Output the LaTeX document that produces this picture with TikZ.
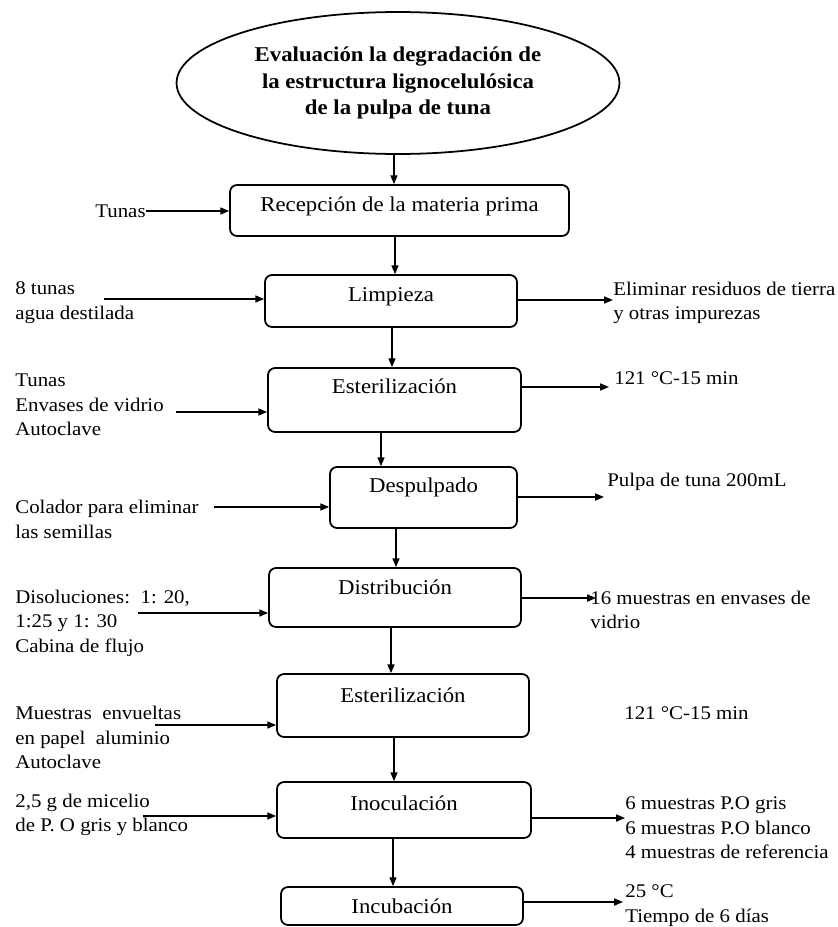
\documentclass[tikz,border=0pt]{standalone}
\usepackage{fontspec}
\setmainfont{Liberation Serif}[FakeStretch=1.08]
\usetikzlibrary{positioning,arrows.meta,shapes.geometric}
\tikzset{
  proc/.style={draw,line width=1pt,rounded corners=4pt,inner sep=2pt,font=\fontsize{12}{14}\selectfont},
  goal/.style={ellipse,draw,line width=1pt,inner sep=0pt,align=center,font=\bfseries\fontsize{12}{15}\selectfont},
  side/.style={anchor=west,align=left,inner sep=0pt,font=\fontsize{11}{14}\selectfont},
  flow/.style={line width=0.8pt,-{Triangle[length=5pt,width=4pt]}}
}
\begin{document}
\begin{tikzpicture}[x=0.02cm,y=-0.02cm]
  \useasboundingbox (0,0) rectangle (838,927);
  % main chain
  \node[goal,minimum width=8.86cm,minimum height=2.84cm] (goal) at (398,83) {Evaluación la degradación de\\la estructura lignocelulósica\\de la pulpa de tuna};
  \node[proc,minimum width=6.78cm,minimum height=1.02cm,text depth=0.26cm] (recep) at (399.5,210.5) {Recepción de la materia prima};
  \node[proc,minimum width=5.04cm,minimum height=1.04cm,text depth=0.26cm] (limp) at (391,301) {Limpieza};
  \node[proc,minimum width=5.06cm,minimum height=1.28cm,text depth=0.54cm] (est1) at (394.5,400) {Esterilización};
  \node[proc,minimum width=3.74cm,minimum height=1.22cm,text depth=0.48cm] (desp) at (423.5,497.5) {Despulpado};
  \node[proc,minimum width=5.04cm,minimum height=1.18cm,text depth=0.40cm] (dist) at (395,597.5) {Distribución};
  \node[proc,minimum width=5.04cm,minimum height=1.26cm,text depth=0.40cm] (est2) at (403,705.5) {Esterilización};
  \node[proc,minimum width=5.08cm,minimum height=1.12cm,text depth=0.26cm] (inoc) at (404,810) {Inoculación};
  \node[proc,minimum width=4.84cm,minimum height=0.76cm] (incub) at (402,906) {Incubación};
  \foreach \a/\b/\x in {goal/recep/394,recep/limp/395,limp/est1/392,est1/desp/381,desp/dist/396,dist/est2/391,est2/inoc/394,inoc/incub/393}
    \draw[flow] (\a.south -| \x,0) -- (\b.north -| \x,0);
  % inputs
  \node[side] (in1) at (95,211) {Tunas};
  \node[side] (in2) at (15,302.5) {8 tunas\\agua destilada};
  \node[side] (in3) at (15,405) {Tunas\\Envases de vidrio\\Autoclave};
  \node[side] (in4) at (15,519.5) {Colador para eliminar\\las semillas};
  \node[side] (in5) at (15,623) {Disoluciones:\ \ 1: 20,\\1:25 y 1: 30\\Cabina de flujo};
  \node[side] (in6) at (15,737.5) {Muestras\ \ envueltas\\en papel\ \ aluminio\\Autoclave};
  \node[side] (in7) at (15,815) {2,5 g de micelio\\de P. O gris y blanco};
  \coordinate (s2) at (104,299);
  \coordinate (s3) at (176,412);
  \coordinate (s4) at (214,507);
  \coordinate (s5) at (138,613);
  \coordinate (s6) at (155,725);
  \coordinate (s7) at (143,816);
  \draw[flow] (in1.east) -- (in1.east -| recep.west);
  \foreach \s/\b in {s2/limp,s3/est1,s4/desp,s5/dist,s6/est2,s7/inoc}
    \draw[flow] (\s) -- (\s -| \b.west);
  % outputs
  \node[side] (out2) at (613,303) {Eliminar residuos de tierra\\y otras impurezas};
  \node[side] (out3) at (614,378) {121 °C-15 min};
  \node[side] (out4) at (607,482) {Pulpa de tuna 200mL};
  \node[side] (out5) at (590,610) {16 muestras en envases de\\vidrio};
  \node[side] (out6) at (624,713) {121 °C-15 min};
  \node[side] (out7) at (625,828) {6 muestras P.O gris\\6 muestras P.O blanco\\4 muestras de referencia};
  \node[side] (out8) at (625,905.5) {25 °C\\Tiempo de 6 días};
  \coordinate (e2) at (613,300);
  \coordinate (e3) at (609,387);
  \coordinate (e4) at (604,497);
  \coordinate (e5) at (596,598);
  \coordinate (e7) at (625,818);
  \coordinate (e8) at (623,902);
  \foreach \b/\e in {limp/e2,est1/e3,desp/e4,dist/e5,inoc/e7,incub/e8}
    \draw[flow] (\b.east |- \e) -- (\e);
\end{tikzpicture}
\end{document}
